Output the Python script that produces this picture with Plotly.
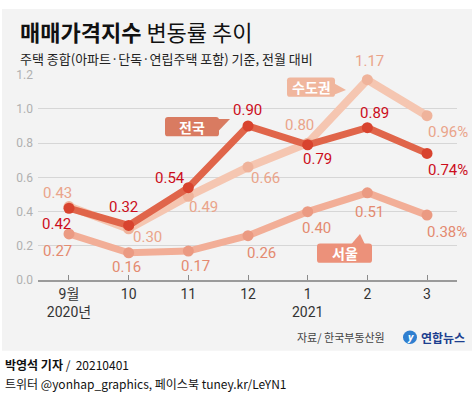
import plotly.graph_objects as go

W, H = 474, 405

months = ["9월<br>2020년", "10", "11", "12", "1<br>2021", "2", "3"]
nation = [0.42, 0.32, 0.54, 0.90, 0.79, 0.89, 0.74]
capital = [0.43, 0.30, 0.49, 0.66, 0.80, 1.17, 0.96]
seoul = [0.27, 0.16, 0.17, 0.26, 0.40, 0.51, 0.38]
y_ticks = [0.0, 0.2, 0.4, 0.6, 0.8, 1.0, 1.2]

# label offsets in pixels (dx, dy with dy positive = down)
nation_off = [(-12, 16), (-5, -18), (-18, -10), (-1, -16), (10, 14), (7, -15), (21, 17)]
capital_off = [(-11, -14), (19, 8), (15, 11), (17, 11), (-8, -18), (2, -19), (21, 16)]
seoul_off = [(-11, 17), (-2, 14), (7, 15), (13, 17), (9, 16), (2, 19), (20, 17)]

def px(x):
    return x / W

def py(y):
    return 1 - y / H

X0, X1 = 38, 457
Y0, Y1 = 70, 283  # y for 1.2 and 0.0

NUMFONT = "Roboto, Noto Sans CJK KR, sans-serif"
KRFONT = "Noto Sans CJK KR, sans-serif"

fig = go.Figure()
xs = list(range(len(months)))

series = [
    ("서울", seoul, "#f2ae97", "#eb9a82", "#e48a70", seoul_off, 7),
    ("수도권", capital, "#f5c6b1", "#efb39b", "#eaa48a", capital_off, 8),
    ("전국", nation, "#e0654a", "#d8432e", "#cc0d1c", nation_off, 7),
]

annotations = []
for name, vals, lc, mc, tc, offs, lw in series:
    fig.add_trace(go.Scatter(
        x=xs, y=vals, mode="lines+markers", name=name,
        line=dict(color=lc, width=lw),
        marker=dict(color=mc, size=11),
        cliponaxis=False, hoverinfo="skip", showlegend=False,
    ))
    for i, v in enumerate(vals):
        txt = f"{v:.2f}" + ("%" if i == len(vals) - 1 else "")
        dx, dy = offs[i]
        annotations.append(dict(
            x=i, y=v, xref="x", yref="y", text=txt, showarrow=False,
            xanchor="center", yanchor="middle",
            xshift=dx, yshift=-dy,
            font=dict(family=NUMFONT, size=15, color=tc),
        ))

shapes = []
# panel background
shapes.append(dict(type="rect", xref="paper", yref="paper",
                   x0=px(2), x1=px(472), y0=py(356), y1=py(2),
                   fillcolor="#f3f3f3", line=dict(width=0), layer="below"))

def badge(x0, y0, x1, y1, tail, color, text):
    r = 3
    p = (f"M {px(x0+r)},{py(y0)} L {px(x1-r)},{py(y0)} Q {px(x1)},{py(y0)} {px(x1)},{py(y0+r)} "
         f"L {px(x1)},{py(y1-r)} Q {px(x1)},{py(y1)} {px(x1-r)},{py(y1)} "
         f"L {px(x0+r)},{py(y1)} Q {px(x0)},{py(y1)} {px(x0)},{py(y1-r)} "
         f"L {px(x0)},{py(y0+r)} Q {px(x0)},{py(y0)} {px(x0+r)},{py(y0)} Z")
    shapes.append(dict(type="path", xref="paper", yref="paper", path=p,
                       fillcolor=color, line=dict(width=0)))
    t = " ".join(("M" if k == 0 else "L") + f" {px(a)},{py(b)}" for k, (a, b) in enumerate(tail)) + " Z"
    shapes.append(dict(type="path", xref="paper", yref="paper", path=t,
                       fillcolor=color, line=dict(width=0)))
    annotations.append(dict(x=px((x0 + x1) / 2), y=py((y0 + y1) / 2), xref="paper", yref="paper",
                            xanchor="center", yanchor="middle",
                            text=f"<b>{text}</b>", showarrow=False,
                            font=dict(family=KRFONT, size=14, color="white")))

badge(165, 114, 219, 134, [(218, 116), (230, 116), (218, 129)], "#d97b61", "전국")
badge(287, 73, 335, 93, [(334, 79), (346, 86), (334, 91)], "#f0b69d", "수도권")
badge(317, 245, 372, 265, [(351, 246), (360, 235), (365, 246)], "#ec917a", "서울")

# logo circle
shapes.append(dict(type="circle", xref="paper", yref="paper",
                   x0=px(403), x1=px(417), y0=py(349), y1=py(335),
                   fillcolor="#2f7fd0", line=dict(width=0)))

def txt(x, y, text, size, color, xanchor="left", family=KRFONT):
    return dict(x=px(x), y=py(y), xref="paper", yref="paper", xanchor=xanchor, yanchor="middle",
                text=text, showarrow=False, font=dict(family=family, size=size, color=color))

annotations += [
    txt(18, 25, "<b>매매가격지수</b> 변동률 추이", 22, "#111"),
    txt(18, 53, "주택 종합(아파트·단독·연립주택 포함) 기준, 전월 대비", 13, "#222"),
    txt(387, 342, "자료/ 한국부동산원", 11, "#444", xanchor="right"),
    txt(410, 342, "<i><b>y</b></i>", 11, "white", xanchor="center", family="Roboto"),
    txt(419, 342, "<b>연합뉴스</b>", 12, "#1d3f8f"),
    txt(3, 370, "<b>박영석 기자</b> /  20210401", 12, "#111"),
    txt(3, 390, "트위터 @yonhap_graphics, 페이스북 tuney.kr/LeYN1", 12, "#111"),
]

xr0 = -(69 - X0) / 59.7
xr1 = 6 + (X1 - 427) / 59.7

fig.update_layout(
    width=W, height=H,
    margin=dict(l=0, r=0, t=0, b=0),
    paper_bgcolor="white", plot_bgcolor="rgba(0,0,0,0)",
    shapes=shapes, annotations=annotations,
    xaxis=dict(domain=[px(X0), px(X1)], range=[xr0, xr1],
               tickmode="array", tickvals=xs, ticktext=months,
               showgrid=False, zeroline=False,
               showline=True, linecolor="#9a9a9a", linewidth=2,
               ticks="inside", ticklen=5, tickcolor="#8a8a8a", tickwidth=1,
               tickfont=dict(family=NUMFONT, size=14, color="#333"), fixedrange=True),
    yaxis=dict(domain=[py(Y1), py(Y0)], range=[0, 1.2],
               tickmode="array", tickvals=y_ticks, ticktext=[f"{v:.1f}" for v in y_ticks],
               showgrid=True, gridcolor="#d6d6d6", gridwidth=1, zeroline=False,
               tickfont=dict(family=NUMFONT, size=12, color="#b0b0b0"),
               ticklabelstandoff=4, fixedrange=True),
)

fig.write_html("out.html", config={"displayModeBar": False},
               post_script="document.body.style.margin='0';")
